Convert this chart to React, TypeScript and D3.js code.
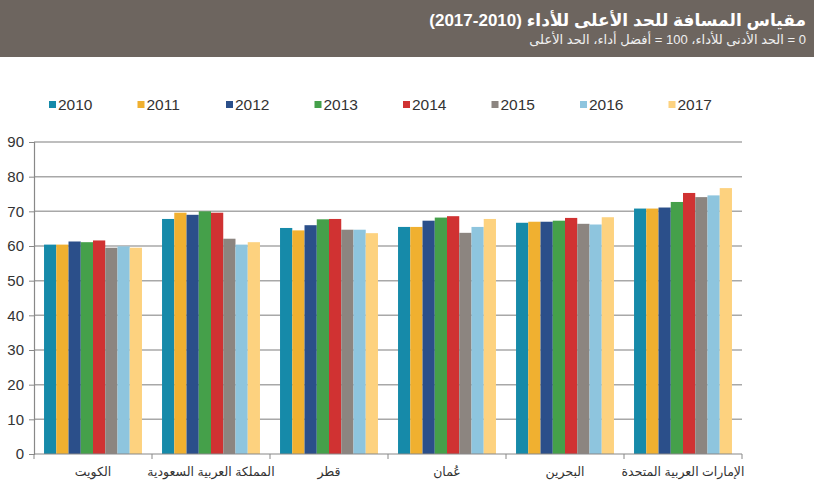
import { useEffect, useRef } from "react";
import * as d3 from "d3";

const countries = [
  "الكويت",
  "المملكة العربية السعودية",
  "قطر",
  "عُمان",
  "البحرين",
  "الإمارات العربية المتحدة",
];

const years = ["2010", "2011", "2012", "2013", "2014", "2015", "2016", "2017"];

// one row per country, one value per year
const kuwait = [60.4, 60.4, 61.3, 61.1, 61.6, 59.5, 59.9, 59.5];
const saudi = [67.8, 69.6, 69.0, 70.0, 69.6, 62.1, 60.4, 61.1];
const qatar = [65.2, 64.5, 66.0, 67.7, 67.8, 64.7, 64.7, 63.7];
const oman = [65.5, 65.5, 67.3, 68.2, 68.6, 63.8, 65.5, 67.8];
const bahrain = [66.7, 67.0, 67.0, 67.3, 68.1, 66.4, 66.2, 68.3];
const uae = [70.8, 70.8, 71.1, 72.7, 75.3, 74.1, 74.6, 76.7];

const yTicks = [0, 10, 20, 30, 40, 50, 60, 70, 80, 90];

const colors = [
  "#168aa9",
  "#f0b030",
  "#2b4f8a",
  "#45a04a",
  "#d03232",
  "#8c8580",
  "#8ec5de",
  "#fdd27f",
];

const title = "مقياس المسافة للحد الأعلى للأداء (2010-2017)";
const subtitle = "0 = الحد الأدنى للأداء، 100 = أفضل أداء، الحد الأعلى";

export default function App() {
  const svgRef = useRef<SVGSVGElement>(null);

  useEffect(() => {
    const svg = d3.select(svgRef.current);
    svg.selectAll("*").remove();

    const width = 814;
    const height = 500;
    const margin = { top: 142, right: 72, bottom: 46, left: 34 };
    const font = "Arial, 'Liberation Sans', 'DejaVu Sans', sans-serif";

    const rows = [kuwait, saudi, qatar, oman, bahrain, uae];

    svg.append("rect").attr("width", width).attr("height", height).attr("fill", "#fff");

    // header band
    svg.append("rect").attr("width", width).attr("height", 57).attr("fill", "#6d655f");
    svg
      .append("text")
      .attr("x", 806)
      .attr("y", 26)
      .attr("direction", "rtl")
      .attr("text-anchor", "start")
      .attr("font-family", font)
      .attr("font-weight", "bold")
      .attr("font-size", 17)
      .attr("fill", "#fff")
      .text(title);
    svg
      .append("text")
      .attr("x", 806)
      .attr("y", 44)
      .attr("direction", "rtl")
      .attr("text-anchor", "start")
      .attr("font-family", font)
      .attr("font-size", 13)
      .attr("fill", "#f0f0f0")
      .text(subtitle);

    const x0 = d3
      .scaleBand()
      .domain(countries)
      .range([margin.left, width - margin.right])
      .paddingInner(0.17)
      .paddingOuter(0.085);

    const x1 = d3.scaleBand().domain(years).range([0, x0.bandwidth()]);

    const y = d3
      .scaleLinear()
      .domain([0, 90])
      .range([height - margin.bottom, margin.top]);

    // gridlines
    svg
      .append("g")
      .selectAll("line")
      .data(yTicks.slice(1))
      .enter()
      .append("line")
      .attr("x1", margin.left)
      .attr("x2", width - margin.right)
      .attr("y1", d => y(d))
      .attr("y2", d => y(d))
      .attr("stroke", "#a8a8a8")
      .attr("stroke-width", 1.5);

    // bars
    const groups = svg
      .append("g")
      .selectAll("g")
      .data(countries)
      .enter()
      .append("g")
      .attr("transform", d => `translate(${x0(d)},0)`);

    groups
      .selectAll("rect")
      .data((_, i) => rows[i].map((v, j) => ({ year: years[j], value: v, c: colors[j] })))
      .enter()
      .append("rect")
      .attr("x", d => x1(d.year)!)
      .attr("width", x1.bandwidth())
      .attr("y", d => y(d.value))
      .attr("height", d => y(0) - y(d.value))
      .attr("fill", d => d.c);

    // y axis
    const yAxis = svg
      .append("g")
      .attr("transform", `translate(${margin.left},0)`)
      .call(d3.axisLeft(y).tickValues(yTicks).tickSize(5).tickPadding(5));
    yAxis.select(".domain").attr("stroke", "#888").attr("stroke-width", 1.2);
    yAxis.selectAll(".tick line").attr("stroke", "#888");
    yAxis
      .selectAll(".tick text")
      .attr("font-family", font)
      .attr("font-size", 15)
      .attr("fill", "#333");

    // x axis
    const step = x0.step();
    const boundaries = countries.map(c => x0(c)! - (step - x0.bandwidth()) / 2);
    boundaries.push(width - margin.right);
    const xAxis = svg.append("g");
    xAxis
      .append("line")
      .attr("x1", margin.left)
      .attr("x2", width - margin.right)
      .attr("y1", y(0))
      .attr("y2", y(0))
      .attr("stroke", "#888")
      .attr("stroke-width", 1.2);
    xAxis
      .selectAll("line.tk")
      .data(boundaries)
      .enter()
      .append("line")
      .attr("class", "tk")
      .attr("x1", d => d)
      .attr("x2", d => d)
      .attr("y1", y(0))
      .attr("y2", y(0) + 5)
      .attr("stroke", "#888");
    xAxis
      .selectAll("text")
      .data(countries)
      .enter()
      .append("text")
      .attr("x", d => x0(d)! + x0.bandwidth() / 2)
      .attr("y", y(0) + 22)
      .attr("text-anchor", "middle")
      .attr("direction", "rtl")
      .attr("font-family", font)
      .attr("font-size", 12.5)
      .attr("fill", "#333")
      .text(d => d);

    // legend
    const legend = svg
      .append("g")
      .selectAll("g")
      .data(years)
      .enter()
      .append("g")
      .attr("transform", (_, i) => `translate(${49 + i * 88.5},105)`);
    legend
      .append("rect")
      .attr("x", 0)
      .attr("y", -4)
      .attr("width", 7)
      .attr("height", 7)
      .attr("fill", (_, i) => colors[i]);
    legend
      .append("text")
      .attr("x", 9)
      .attr("y", 5)
      .attr("font-family", font)
      .attr("font-size", 15.5)
      .attr("fill", "#333")
      .text(d => d);
  }, []);

  return (
    <div style={{ position: "absolute", left: 0, top: 0 }}>
      <svg ref={svgRef} width={814} height={500} style={{ display: "block" }} />
    </div>
  );
}
